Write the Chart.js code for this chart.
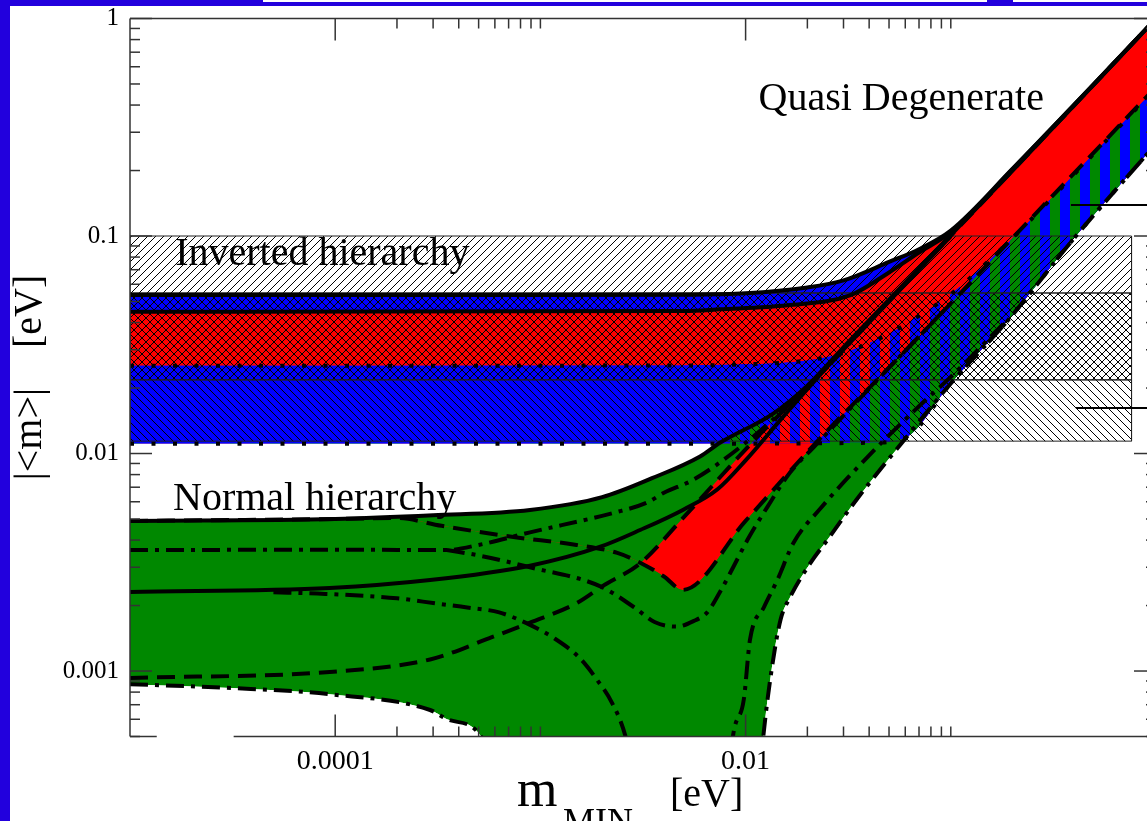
<!DOCTYPE html>
<html lang="en">
<head>
<meta charset="UTF-8" />
<title>|&lt;m&gt;| versus m_MIN</title>
<style>
  html, body { margin: 0; padding: 0; }
  body { background: #2200dd; width: 1147px; height: 821px; overflow: hidden; position: relative; }
  #sheet { position: absolute; left: 10px; top: 6px; width: 1160px; height: 815px; background: #fff; }
  .strip { position: absolute; top: 0; height: 2px; background: #fff; }
</style>
</head>
<body>
  <div class="strip" style="left:263px;width:724px"></div>
  <div class="strip" style="left:1013px;width:134px"></div>
  <div id="sheet"><canvas id="massChart" width="1160" height="815"></canvas></div>

  <script src="https://cdn.jsdelivr.net/npm/chart.js"></script>
  <script>
    // every curve is a list of [m_MIN, |<m>|] pairs, both in eV

    // inverted hierarchy: 3 sigma band and best-fit band
    const ihUpper = [[1e-5,0.0535],[1e-3,0.0535],[0.005,0.0537],[0.01,0.0545],[0.02,0.058],[0.03,0.0625],[0.05,0.076],[0.07,0.087],[0.1,0.106],[0.2,0.204],[0.5,0.502],[1,1]];
    const ihBestUpper = [[1e-5,0.0448],[0.005,0.0452],[0.0075,0.046],[0.016,0.048],[0.0325,0.0535],[0.05,0.068],[0.07,0.084],[0.1,0.104],[0.2,0.203],[0.5,0.501],[1,1]];
    const ihBestLower = [[1e-5,0.0253],[0.005,0.0254],[0.01,0.0257],[0.02,0.0268],[0.03,0.029],[0.05,0.0355],[0.07,0.043],[0.1,0.054],[0.2,0.098],[0.5,0.24],[1,0.48]];
    const ihLower = [[1e-5,0.0111],[0.01,0.0111],[0.04,0.0112],[0.06,0.0118],[0.1,0.021],[0.19,0.041],[0.4,0.098],[1,0.265]];

    // normal hierarchy: 3 sigma envelope
    const nhUpper = [[1e-5,0.0049],[1e-4,0.005],[3e-4,0.0052],[8.9e-4,0.0055],[0.002,0.0063],[0.0035,0.0077],[0.006,0.0097],[0.0075,0.0112],[0.0137,0.0153],[0.02,0.0205],[0.0325,0.0334],[0.05,0.051],[0.1,0.101],[0.2,0.2],[1,1]];
    const nhLower = [[1e-5,0.00087],[3.1e-5,0.000836],[9.4e-5,0.000782],[2.9e-4,0.000662],[3.6e-4,0.000595],[5.1e-4,0.000505],[6.5e-4,0.0002],[0.0112,0.0002],[0.0122,0.0005],[0.0133,0.00097],[0.0148,0.00172],[0.0165,0.00219],[0.0208,0.00316],[0.025,0.004],[0.035,0.0062],[0.06,0.0117],[0.1,0.021],[0.19,0.041],[0.4,0.098],[1,0.265]];

    // normal hierarchy: inner curves (the red band sits where nhRise > nhDip)
    const nhRise = [[1e-5,0.00093],[9.4e-5,0.00099],[2.9e-4,0.00113],[5.8e-4,0.00143],[8.9e-4,0.00167],[1.5e-3,0.00205],[2e-3,0.00245],[3.08e-3,0.00314],[5e-3,0.0051],[0.0109,0.0114],[0.02,0.0203],[0.05,0.0505],[0.1,0.1005],[0.2,0.2],[1,1]];
    const nhDip = [[1e-5,0.0049],[1e-4,0.005],[2e-4,0.00505],[3.3e-4,0.00465],[7.4e-4,0.00413],[1.5e-3,0.0038],[2.37e-3,0.00349],[3.08e-3,0.00314],[4e-3,0.00272],[4.93e-3,0.00236],[0.01,0.0049],[0.0224,0.0114],[0.05,0.0248],[0.1,0.049],[0.2,0.098],[0.5,0.243],[1,0.485]];
    const nhMid = [[1e-5,0.00231],[9.4e-5,0.00241],[2.9e-4,0.00262],[8.9e-4,0.00305],[1.96e-3,0.00373],[3.08e-3,0.00446],[4.97e-3,0.00552],[7.3e-3,0.00685],[0.01,0.0093],[0.015,0.0145],[0.025,0.025],[0.05,0.05],[0.1,0.1]];
    const nhSplitUp = [[1e-5,0.0036],[1e-4,0.00361],[3.5e-4,0.0036],[5e-4,0.0038],[8.9e-4,0.00434],[2.3e-3,0.00535],[3.3e-3,0.00594],[4e-3,0.0066],[5.6e-3,0.0076],[0.01,0.0112],[0.02,0.0202],[0.05,0.0502],[0.1,0.1]];
    const nhSplitLo = [[3.5e-4,0.0036],[5e-4,0.0034],[8.9e-4,0.003],[1.96e-3,0.00245],[2.85e-3,0.00197],[3.6e-3,0.00168],[4.6e-3,0.0016],[5.6e-3,0.0017],[6.5e-3,0.00186],[7.6e-3,0.00236],[8.7e-3,0.003],[0.0102,0.004],[0.0128,0.0057],[0.0165,0.0082],[0.0215,0.0107],[0.05,0.0248],[0.1,0.049]];
    const nhFall = [[5e-5,0.0023],[8.2e-5,0.00227],[2e-4,0.00216],[3.15e-4,0.00204],[4.4e-4,0.00196],[6.3e-4,0.00186],[8.9e-4,0.00163],[1.16e-3,0.00142],[1.55e-3,0.00115],[1.89e-3,0.00091],[2.24e-3,0.00071],[2.6e-3,0.0005],[2.9e-3,0.0003]];
    const nhClimb = [[8.2e-3,0.0003],[8.7e-3,0.00051],[9.8e-3,0.00074],[0.0105,0.00139],[0.0123,0.00197],[0.0143,0.00263],[0.0171,0.00388],[0.0232,0.0056],[0.04,0.0098],[0.07,0.0165],[0.1,0.0225],[0.19,0.0415]];

    // experimental ranges (hatched boxes) and the two pointer lines at the right
    const boxSpan = [1e-5, 0.76];
    const boxLevels = [0.1, 0.0547, 0.0218, 0.0114];
    const pointerHigh = [[0.385,0.139],[1,0.139]];
    const pointerLow = [[0.407,0.0162],[1,0.0162]];

    // axes
    const xLabelValues = [1e-4, 1e-2];
    const xLabels = ['0.0001', '0.01'];
    const xMajors = [1e-4, 1e-2, 1];
    const yLabelValues = [1e-3, 1e-2, 0.1, 1];
    const yLabels = ['0.001', '0.01', '0.1', '1'];

    const xTicks = [];
    xMajors.forEach(v => { xTicks.push(v); if (v < 1) for (let k = 2; k <= 10; k++) xTicks.push(+(k * v).toPrecision(3)); });
    const yTicks = [];
    [1e-4, 1e-3, 1e-2, 0.1, 1].forEach(v => { for (let k = 1; k <= 9; k++) { const t = +(k * v).toPrecision(3); if (t >= 5e-4 && t <= 1) yTicks.push(t); } });

    const BLUE = '#0000ff', RED = '#ff0000', GREEN = '#008800';

    function stripes(a, b, w) {
      const c = document.createElement('canvas');
      c.width = 2 * w; c.height = 1;
      const g = c.getContext('2d');
      g.fillStyle = b; g.fillRect(0, 0, w, 1);
      g.fillStyle = a; g.fillRect(w, 0, w, 1);
      return g.createPattern(c, 'repeat');
    }

    function hatch(kind) {
      const s = 8, c = document.createElement('canvas');
      c.width = c.height = s;
      const g = c.getContext('2d');
      g.strokeStyle = '#000';
      g.lineWidth = 1;
      const seg = (x0, y0, x1, y1) => { g.beginPath(); g.moveTo(x0, y0); g.lineTo(x1, y1); g.stroke(); };
      if (kind !== '\\') { seg(-1, s + 1, s + 1, -1); seg(-1, 1, 1, -1); seg(s - 1, s + 1, s + 1, s - 1); }
      if (kind !== '/') { seg(-1, -1, s + 1, s + 1); seg(-1, s - 1, 1, s + 1); seg(s - 1, -1, s + 1, 1); }
      return g.createPattern(c, 'repeat');
    }

    const redBlue = stripes(RED, BLUE, 10);
    const blueGreen = stripes(BLUE, GREEN, 10);

    const pts = arr => arr.map(([x, y]) => ({x, y}));
    const datasets = [];
    const add = ds => datasets.push(Object.assign({pointRadius: 0, fill: false}, ds)) - 1;

    // black boundary curves, drawn above everything else
    const SOLID = [], DOTS = [4, 17.5], DASH = [18, 9], DASHDOT = [18, 7, 4, 7];
    const curve = (data, dash, width = 4) =>
      add({data: pts(data), borderColor: '#000', borderWidth: width, borderDash: dash, order: 0});

    const iUp = curve(ihUpper, SOLID);
    const iBestUp = curve(ihBestUpper, SOLID);
    const iBestLo = curve(ihBestLower, DOTS);
    const iLo = curve(ihLower, DOTS);
    const nUp = curve(nhUpper, SOLID);
    const nLo = curve(nhLower, DASHDOT);
    const nRise = curve(nhRise, DASH);
    const nDip = curve(nhDip, DASH);
    curve(nhMid, SOLID);
    curve(nhSplitUp, DASHDOT);
    curve(nhSplitLo, DASHDOT);
    curve(nhFall, DASHDOT);
    curve(nhClimb, DASHDOT);
    curve(pointerHigh, SOLID, 2);
    curve(pointerLow, SOLID, 2);

    // hatched experimental ranges
    const hatches = [hatch('/'), hatch('x'), hatch('\\')];
    hatches.forEach((pattern, i) => {
      const hi = boxLevels[i], lo = boxLevels[i + 1];
      add({
        data: pts([[boxSpan[0], hi], [boxSpan[1], hi], [boxSpan[1], lo], [boxSpan[0], lo], [boxSpan[0], hi]]),
        fill: 'shape', backgroundColor: pattern, borderColor: '#222', borderWidth: 1,
        tension: 0, cubicInterpolationMode: 'default', order: 1
      });
    });

    // coloured regions, listed from the bottom layer up
    let layer = 0;
    const region = (data, target, colour) =>
      add({data: pts(data), borderWidth: 0, fill: {target, above: colour, below: 'rgba(0,0,0,0)'}, order: 100 - layer++});

    region(ihUpper, iLo, BLUE);           // inverted, 3 sigma
    region(nhUpper, nLo, GREEN);          // normal, 3 sigma
    region(nhUpper, iLo, blueGreen);      // both hierarchies allowed
    region(nhRise, nDip, RED);            // normal, best fit
    region(nhRise, iLo, redBlue);         // normal best fit inside inverted 3 sigma
    region(nhDip, iLo, blueGreen);
    region(ihBestUpper, iBestLo, RED);    // inverted, best fit

    const serif = 'Liberation Serif';

    const decorations = {
      id: 'decorations',
      afterDatasetsDraw(chart) {
        const {ctx, chartArea: a, scales: {x, y}} = chart;
        ctx.save();
        ctx.strokeStyle = '#333';
        ctx.lineWidth = 1.5;
        const seg = (x0, y0, x1, y1) => { ctx.beginPath(); ctx.moveTo(x0, y0); ctx.lineTo(x1, y1); ctx.stroke(); };
        // frame; the bottom edge has a small break near the left corner
        seg(a.left, a.top, a.right, a.top);
        seg(a.left, a.top, a.left, a.bottom);
        seg(a.right, a.top, a.right, a.bottom);
        seg(a.left, a.bottom, x.getPixelForValue(1.35e-5), a.bottom);
        seg(x.getPixelForValue(3.2e-5), a.bottom, a.right, a.bottom);
        // inward ticks on all four sides
        xTicks.forEach(v => {
          const p = x.getPixelForValue(v), len = xMajors.includes(v) ? 22 : 10;
          seg(p, a.bottom, p, a.bottom - len);
          seg(p, a.top, p, a.top + len);
        });
        yTicks.forEach(v => {
          const p = y.getPixelForValue(v), len = yLabelValues.includes(v) ? 22 : 10;
          seg(a.left, p, a.left + len, p);
          seg(a.right, p, a.right - len, p);
        });

        // region names
        ctx.fillStyle = '#000';
        ctx.font = '40px "' + serif + '"';
        ctx.textBaseline = 'alphabetic';
        ctx.textAlign = 'left';
        ctx.fillText('Quasi Degenerate', x.getPixelForValue(0.01156), y.getPixelForValue(0.3796));
        ctx.fillText('Inverted hierarchy', x.getPixelForValue(1.66e-5), y.getPixelForValue(0.0736));
        ctx.fillText('Normal hierarchy', x.getPixelForValue(1.62e-5), y.getPixelForValue(0.0055));

        // axis titles
        ctx.font = '52px "' + serif + '"';
        ctx.fillText('m', 507, 800);
        ctx.font = '40px "' + serif + '"';
        ctx.fillText('[eV]', 660, 800);
        ctx.font = '36px "' + serif + '"';
        ctx.fillText('MIN', 553, 827);
        ctx.translate(31, (a.top + a.bottom) / 2);
        ctx.rotate(-Math.PI / 2);
        ctx.textAlign = 'center';
        ctx.font = '40px "' + serif + '"';
        ctx.fillText('|<m>|    [eV]', 0, 0);
        ctx.restore();
      }
    };

    new Chart(document.getElementById('massChart'), {
      type: 'line',
      data: {datasets},
      options: {
        responsive: false,
        animation: false,
        events: [],
        layout: {padding: {top: 12.5, right: 14, left: 0, bottom: 0}},
        plugins: {legend: {display: false}, tooltip: {enabled: false}},
        elements: {point: {radius: 0}, line: {cubicInterpolationMode: 'monotone'}},
        scales: {
          x: {
            type: 'logarithmic', min: 1e-5, max: 1,
            grid: {display: false, drawTicks: false}, border: {display: false},
            afterBuildTicks: s => { s.ticks = xTicks.map(v => ({value: v})); },
            afterFit: s => { s.height = 84.5; },
            ticks: {
              autoSkip: false, maxRotation: 0, padding: 8, color: '#000', font: {family: serif, size: 28},
              callback: v => { const i = xLabelValues.indexOf(v); return i < 0 ? '' : xLabels[i]; }
            }
          },
          y: {
            type: 'logarithmic', min: 5e-4, max: 1,
            grid: {display: false, drawTicks: false}, border: {display: false},
            afterBuildTicks: s => { s.ticks = yTicks.map(v => ({value: v})); },
            afterFit: s => { s.width = 120; s.paddingTop = 0; s.paddingBottom = 0; },
            ticks: {
              autoSkip: false, padding: 11, color: '#000', font: {family: serif, size: 25},
              callback: v => { const i = yLabelValues.indexOf(v); return i < 0 ? '' : yLabels[i]; }
            }
          }
        }
      },
      plugins: [decorations]
    });
  </script>
</body>
</html>
